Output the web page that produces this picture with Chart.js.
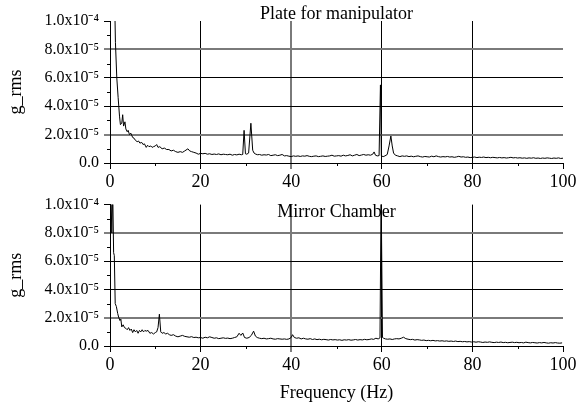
<!DOCTYPE html>
<html>
<head>
<meta charset="utf-8">
<script src="https://cdn.jsdelivr.net/npm/chart.js@4.4.1/dist/chart.umd.min.js"></script>
<style>
  body { margin: 0; background: #fff; }
  #wrap { position: relative; width: 585px; height: 405px; }
  #topChart { position: absolute; left: 0; top: 0; }
  #bottomChart { position: absolute; left: 0; top: 190px; }
</style>
</head>
<body>
<div id="wrap">
  <canvas id="topChart" width="585" height="200"></canvas>
  <canvas id="bottomChart" width="585" height="215"></canvas>
</div>
<script>
// values are g_rms in units of 1e-5
const freqTop = [1.0, 1.2, 1.5, 1.8, 2.1, 2.3, 2.6, 2.8, 3.0, 3.3, 3.5, 3.8, 4.0, 4.3, 4.6, 5.0, 5.3, 5.6, 6.0, 6.3,
  6.6, 7.0, 7.3, 7.6, 8.0, 8.3, 8.6, 9.0, 9.3, 9.6, 10.0, 10.3, 10.6, 11.0, 11.5, 12.0, 12.5, 13.0, 13.5, 14.0,
  14.5, 15.0, 15.5, 16.0, 16.5, 17.2, 17.6, 18.0, 18.5, 19.0, 19.5, 20.0, 20.5, 21.0, 21.5, 22.0, 22.5, 23.0, 23.5, 24.0,
  24.5, 25.0, 25.5, 26.0, 26.5, 27.0, 27.5, 28.0, 28.5, 29.0, 29.3, 29.6, 29.9, 30.2, 30.6, 31.1, 31.5, 31.8, 32.2, 32.6,
  33.0, 33.5, 34.0, 34.5, 35.0, 35.5, 36.0, 36.5, 37.0, 37.5, 38.0, 38.5, 39.0, 39.5, 40.0, 40.5, 41.0, 41.5, 42.0, 42.5,
  43.0, 43.5, 44.0, 44.5, 45.0, 45.5, 46.0, 46.5, 47.0, 47.5, 48.0, 48.5, 49.0, 49.5, 50.0, 50.5, 51.0, 51.5, 52.0, 52.5,
  53.0, 53.5, 54.0, 54.5, 55.0, 55.5, 56.0, 56.5, 57.0, 57.5, 58.0, 58.3, 58.6, 59.0, 59.4, 59.7, 59.9, 60.3, 60.7, 61.2,
  61.6, 62.0, 62.3, 62.6, 63.0, 63.5, 64.0, 64.5, 65.0, 65.5, 66.0, 66.5, 67.0, 67.5, 68.0, 68.5, 69.0, 69.5, 70.0, 70.5,
  71.0, 71.5, 72.0, 72.5, 73.0, 73.5, 74.0, 74.5, 75.0, 75.5, 76.0, 76.5, 77.0, 77.5, 78.0, 78.5, 79.0, 79.5, 80.0, 80.5,
  81.0, 81.5, 82.0, 82.5, 83.0, 83.5, 84.0, 84.5, 85.0, 85.5, 86.0, 86.5, 87.0, 87.5, 88.0, 88.5, 89.0, 89.5, 90.0, 90.5,
  91.0, 91.5, 92.0, 92.5, 93.0, 93.5, 94.0, 94.5, 95.0, 95.5, 96.0, 96.5, 97.0, 97.5, 98.0, 98.5, 99.0, 99.5, 100.0];
const gTop = [12, 8.5, 6.0, 4.6, 3.3, 2.7, 2.8, 3.4, 2.6, 2.9, 2.4, 2.2, 2.3, 2.0, 2.1, 1.8, 1.75, 1.6, 1.5, 1.55,
  1.4, 1.45, 1.3, 1.35, 1.1, 1.25, 1.15, 1.2, 1.1, 1.15, 1.2, 1.3, 1.1, 1.15, 1.0, 1.05, 0.95, 0.95, 0.85, 0.9,
  0.8, 0.75, 0.8, 0.75, 0.85, 1.0, 0.85, 0.8, 0.75, 0.7, 0.62, 0.68, 0.65, 0.68, 0.62, 0.65, 0.6, 0.63, 0.6, 0.64,
  0.58, 0.62, 0.6, 0.58, 0.62, 0.55, 0.6, 0.57, 0.62, 0.58, 0.6, 2.3, 0.65, 0.62, 0.7, 2.8, 0.9, 0.7, 0.62, 0.58,
  0.6, 0.55, 0.58, 0.56, 0.6, 0.52, 0.55, 0.58, 0.52, 0.55, 0.6, 0.5, 0.52, 0.48, 0.45, 0.5, 0.47, 0.5, 0.46, 0.5,
  0.48, 0.52, 0.47, 0.45, 0.48, 0.5, 0.45, 0.47, 0.5, 0.46, 0.48, 0.5, 0.55, 0.48, 0.5, 0.52, 0.48, 0.55, 0.5, 0.53,
  0.58, 0.5, 0.55, 0.6, 0.52, 0.56, 0.6, 0.55, 0.58, 0.55, 0.62, 0.78, 0.55, 0.5, 0.52, 5.5, 0.5, 0.45, 0.5, 0.6,
  1.2, 1.9, 1.2, 0.7, 0.55, 0.5, 0.45, 0.5, 0.47, 0.5, 0.45, 0.48, 0.44, 0.47, 0.5, 0.45, 0.42, 0.46, 0.44, 0.42,
  0.48, 0.44, 0.5, 0.45, 0.42, 0.45, 0.43, 0.46, 0.42, 0.44, 0.4, 0.43, 0.47, 0.42, 0.44, 0.4, 0.42, 0.38, 0.4, 0.42,
  0.38, 0.41, 0.39, 0.42, 0.38, 0.4, 0.37, 0.4, 0.38, 0.36, 0.39, 0.36, 0.38, 0.35, 0.37, 0.4, 0.36, 0.38, 0.35, 0.37,
  0.34, 0.36, 0.33, 0.36, 0.34, 0.37, 0.33, 0.35, 0.32, 0.35, 0.33, 0.36, 0.34, 0.32, 0.35, 0.33, 0.36, 0.32, 0.34];

const freqBottom = [0.2, 0.4, 0.6, 0.8, 0.95, 1.15, 1.4, 1.7, 1.9, 2.2, 2.4, 2.6, 2.9, 3.2, 3.5, 3.8, 4.1, 4.4, 4.7, 5.0,
  5.3, 5.6, 5.9, 6.2, 6.5, 6.8, 7.1, 7.4, 7.7, 8.0, 8.4, 8.8, 9.2, 9.6, 10.0, 10.3, 10.6, 10.9, 11.2, 11.5,
  11.9, 12.3, 12.7, 13.1, 13.5, 14.0, 14.5, 15.0, 15.5, 16.0, 16.5, 17.0, 17.5, 18.0, 18.5, 19.0, 19.5, 20.0, 20.5, 21.0,
  21.5, 22.0, 22.5, 23.0, 23.5, 24.0, 24.5, 25.0, 25.5, 26.0, 26.5, 27.0, 27.5, 28.0, 28.5, 28.9, 29.3, 29.7, 30.2, 30.7,
  31.2, 31.7, 32.1, 32.5, 33.0, 33.5, 34.0, 34.5, 35.0, 35.5, 36.0, 36.5, 37.0, 37.5, 38.0, 38.5, 39.0, 39.5, 40.0, 40.3,
  40.7, 41.2, 41.7, 42.2, 42.7, 43.2, 43.7, 44.2, 44.7, 45.2, 45.7, 46.2, 46.7, 47.2, 47.7, 48.2, 48.7, 49.2, 49.7, 50.2,
  50.7, 51.2, 51.7, 52.2, 52.7, 53.2, 53.7, 54.2, 54.7, 55.2, 55.7, 56.2, 56.7, 57.2, 57.7, 58.2, 58.7, 59.2, 59.6, 59.85,
  60.0, 60.15, 60.4, 60.8, 61.3, 61.8, 62.3, 62.8, 63.3, 63.8, 64.3, 64.8, 65.3, 65.8, 66.3, 66.8, 67.3, 67.8, 68.3, 68.8,
  69.3, 69.8, 70.3, 70.8, 71.3, 71.8, 72.3, 72.8, 73.3, 73.8, 74.3, 74.8, 75.3, 75.8, 76.3, 76.8, 77.3, 77.8, 78.3, 78.8,
  79.3, 79.8, 80.3, 80.8, 81.3, 81.8, 82.3, 82.8, 83.3, 83.8, 84.3, 84.8, 85.3, 85.8, 86.3, 86.8, 87.3, 87.8, 88.3, 88.8,
  89.3, 89.8, 90.3, 90.8, 91.3, 91.8, 92.3, 92.8, 93.3, 93.8, 94.3, 94.8, 95.3, 95.8, 96.3, 96.8, 97.3, 97.8, 98.3, 98.8,
  99.3, 99.8];
const gBottom = [11, 8.0, 11, 6.6, 6.4, 3.0, 2.8, 2.3, 2.05, 1.8, 1.9, 1.35, 1.5, 1.3, 1.25, 1.15, 1.3, 1.1, 1.2, 0.95,
  1.15, 1.0, 1.1, 0.9, 1.1, 1.0, 1.15, 1.0, 1.1, 1.05, 1.1, 0.9, 0.95, 0.85, 0.95, 1.0, 1.3, 2.25, 1.0, 0.9,
  0.95, 0.85, 0.9, 0.8, 0.75, 0.8, 0.7, 0.65, 0.7, 0.75, 0.68, 0.65, 0.62, 0.66, 0.6, 0.62, 0.58, 0.6, 0.55, 0.62,
  0.58, 0.65, 0.6, 0.55, 0.58, 0.52, 0.55, 0.58, 0.54, 0.56, 0.52, 0.55, 0.6, 0.65, 0.9, 0.75, 0.92, 0.6, 0.55, 0.6,
  0.75, 1.05, 0.7, 0.6, 0.55, 0.52, 0.55, 0.5, 0.52, 0.55, 0.5, 0.48, 0.52, 0.5, 0.48, 0.5, 0.47, 0.5, 0.6, 0.8,
  0.6, 0.55, 0.58, 0.5, 0.55, 0.5, 0.48, 0.52, 0.46, 0.5, 0.45, 0.48, 0.44, 0.47, 0.45, 0.42, 0.46, 0.43, 0.45, 0.42,
  0.44, 0.4, 0.44, 0.42, 0.45, 0.41, 0.43, 0.46, 0.42, 0.45, 0.43, 0.47, 0.44, 0.46, 0.5, 0.47, 0.55, 0.5, 0.58, 11,
  11, 0.6, 0.55, 0.5, 0.48, 0.5, 0.46, 0.5, 0.52, 0.5, 0.55, 0.62, 0.52, 0.48, 0.45, 0.47, 0.42, 0.45, 0.43, 0.4,
  0.42, 0.38, 0.4, 0.37, 0.4, 0.36, 0.38, 0.35, 0.37, 0.34, 0.36, 0.33, 0.35, 0.32, 0.35, 0.31, 0.33, 0.3, 0.32, 0.29,
  0.31, 0.28, 0.3, 0.27, 0.3, 0.28, 0.25, 0.28, 0.26, 0.29, 0.26, 0.24, 0.27, 0.25, 0.28, 0.24, 0.26, 0.23, 0.25, 0.27,
  0.24, 0.26, 0.23, 0.25, 0.22, 0.27, 0.24, 0.22, 0.25, 0.23, 0.21, 0.24, 0.22, 0.25, 0.22, 0.2, 0.23, 0.21, 0.24, 0.21,
  0.2, 0.22];

const SERIF = "'Liberation Serif', 'Times New Roman', serif";

function yLabel(v) {
  if (v === 0) return "0.0";
  if (v === 10) return "1.0x10\u207B\u2074";
  return v.toFixed(1) + "x10\u207B\u2075";
}

// grid lines: interior only; some look grey and wider in the original
function gridColor(ctx, greyVals, maxV) {
  const v = ctx.tick ? ctx.tick.value : null;
  if (v === 0 || v === maxV) return "rgba(0,0,0,0)";
  return greyVals.includes(v) ? "#7a7a7a" : "#000";
}

// small extra ticks between the labelled ones
const minorTicks = {
  id: "minorTicks",
  afterDraw(chart) {
    const ctx = chart.ctx;
    const x = chart.scales.x, y = chart.scales.y;
    const area = chart.chartArea;
    ctx.save();
    ctx.strokeStyle = "#000";
    ctx.lineWidth = 1;
    ctx.beginPath();
    [10, 30, 50, 70, 90].forEach(v => {
      const px = Math.round(x.getPixelForValue(v)) + 0.5;
      ctx.moveTo(px, area.bottom);
      ctx.lineTo(px, area.bottom + 3);
    });
    [1, 3, 5, 7, 9].forEach(v => {
      const py = Math.round(y.getPixelForValue(v)) + 0.5;
      ctx.moveTo(area.left - 3, py);
      ctx.lineTo(area.left, py);
    });
    ctx.stroke();
    ctx.restore();
  }
};

const panelTitle = {
  id: "panelTitle",
  afterDatasetsDraw(chart, args, opts) {
    const ctx = chart.ctx;
    const area = chart.chartArea;
    ctx.save();
    ctx.font = "18px " + SERIF;
    ctx.fillStyle = "#000";
    ctx.textAlign = "center";
    ctx.textBaseline = "alphabetic";
    ctx.fillText(opts.text, (area.left + area.right) / 2, opts.baseline);
    ctx.restore();
  }
};

function makeChart(id, freqs, vals, title, titleBaseline, padTop, xHeight, showXTitle) {
  return new Chart(document.getElementById(id), {
    type: "line",
    data: {
      datasets: [{
        data: freqs.map((f, i) => ({ x: f, y: vals[i] })),
        borderColor: "#000",
        borderWidth: 1,
        pointRadius: 0,
        tension: 0,
        fill: false
      }]
    },
    options: {
      responsive: false,
      animation: false,
      layout: { padding: { top: padTop, right: 22, left: 0, bottom: 0 } },
      plugins: {
        legend: { display: false },
        tooltip: { enabled: false },
        panelTitle: { text: title, baseline: titleBaseline }
      },
      scales: {
        x: {
          type: "linear",
          min: 0,
          max: 100,
          afterFit: s => { s.height = xHeight; },
          ticks: {
            stepSize: 20,
            maxRotation: 0,
            padding: 2,
            color: "#000",
            font: { family: SERIF, size: 18 }
          },
          grid: {
            color: c => gridColor(c, [40], 100),
            lineWidth: c => (c.tick && c.tick.value === 40 ? 2 : 1),
            tickColor: "#000",
            tickWidth: 1,
            tickLength: 6
          },
          border: { color: "#000", width: 1 },
          title: {
            display: showXTitle,
            text: "Frequency (Hz)",
            color: "#000",
            font: { family: SERIF, size: 18 },
            padding: { top: 0, bottom: 1 }
          }
        },
        y: {
          min: 0,
          max: 10,
          afterFit: s => { s.width = 110; },
          ticks: {
            stepSize: 2,
            padding: 5,
            color: "#000",
            font: { family: SERIF, size: 16 },
            callback: v => yLabel(v)
          },
          grid: {
            color: c => gridColor(c, [2, 8], 10),
            lineWidth: c => (c.tick && (c.tick.value === 2 || c.tick.value === 8) ? 2 : 1),
            tickColor: "#000",
            tickWidth: 1,
            tickLength: 6
          },
          border: { color: "#000", width: 1 },
          title: {
            display: true,
            text: "g_rms",
            color: "#000",
            font: { family: SERIF, size: 18 },
            padding: { top: 5, bottom: 0 }
          }
        }
      }
    },
    plugins: [minorTicks, panelTitle]
  });
}

makeChart("topChart", freqTop, gTop, "Plate for manipulator", 18.5, 21, 37, false);
makeChart("bottomChart", freqBottom, gBottom, "Mirror Chamber", 26.7, 14, 59, true);
</script>
</body>
</html>
